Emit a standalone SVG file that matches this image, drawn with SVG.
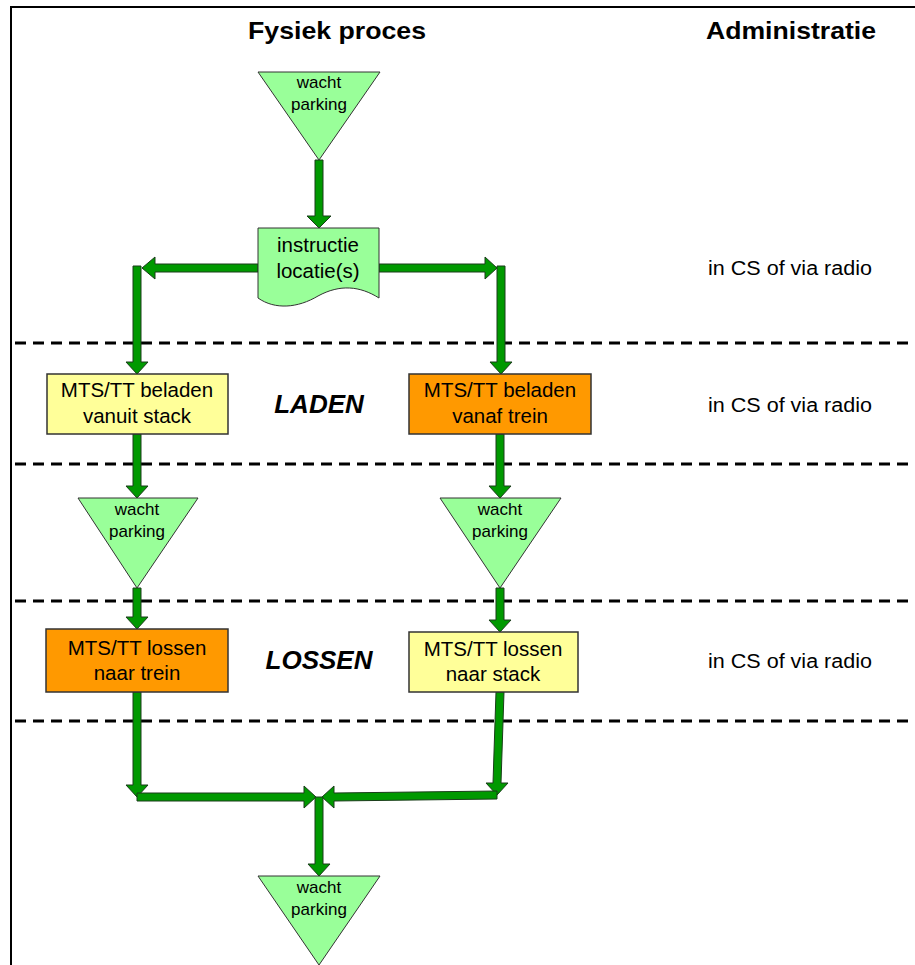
<svg xmlns="http://www.w3.org/2000/svg" width="915" height="965" viewBox="0 0 915 965">
<style>
text{font-family:"Liberation Sans",Arial,sans-serif;fill:#000}
.hdr{font-size:24px;font-weight:bold;text-anchor:middle}
.box{font-size:20.5px;text-anchor:middle}
.tri{font-size:17px;text-anchor:middle}
.adm{font-size:20px}
.phase{font-size:26px;font-weight:bold;font-style:italic;text-anchor:middle}
.dash{stroke:#000;stroke-width:3;stroke-dasharray:11 7;fill:none}
.arr{fill:#009900;stroke:#1a3d1a;stroke-width:1;stroke-linejoin:miter}
.wait{fill:#99FF99;stroke:#333;stroke-width:1}
.yel{fill:#FFFF99;stroke:#333;stroke-width:1.5}
.org{fill:#FF9900;stroke:#333;stroke-width:1.5}
.doc{fill:#99FF99;stroke:#333;stroke-width:1}
</style>
<rect x="0" y="0" width="915" height="965" fill="#fff"/>
<path d="M11,965 V7 H915" fill="none" stroke="#000" stroke-width="2"/>
<g id="lanes">
<line class="dash" x1="15" y1="343" x2="915" y2="343"/>
<line class="dash" x1="15" y1="464" x2="915" y2="464"/>
<line class="dash" x1="15" y1="601" x2="915" y2="601"/>
<line class="dash" x1="15" y1="721" x2="915" y2="721"/>
</g>
<g id="headers">
<text class="hdr" x="337" y="39" textLength="178" lengthAdjust="spacingAndGlyphs">Fysiek proces</text>
<text class="hdr" x="791" y="39" textLength="170" lengthAdjust="spacingAndGlyphs">Administratie</text>
<text class="phase" x="319" y="413">LADEN</text>
<text class="phase" x="319" y="669">LOSSEN</text>
<text class="adm" x="708" y="275" textLength="164" lengthAdjust="spacingAndGlyphs">in CS of via radio</text>
<text class="adm" x="708" y="412" textLength="164" lengthAdjust="spacingAndGlyphs">in CS of via radio</text>
<text class="adm" x="708" y="668" textLength="164" lengthAdjust="spacingAndGlyphs">in CS of via radio</text>
</g>
<g id="connectors">
<polygon class="arr" points="315,160 323,160 323,216 331,216 319,228 307,216 315,216"/>
<polygon class="arr" points="258,264 258,272 155,272 155,279 142,268 155,257 155,264"/>
<polygon class="arr" points="133,266 141,266 141,362 148,362 137,374 126,362 133,362"/>
<polygon class="arr" points="379,264 379,272 485,272 485,279 497,268 485,257 485,264"/>
<polygon class="arr" points="497,266 505,266 505,362 512,362 501,374 490,362 497,362"/>
<polygon class="arr" points="133,434 141,434 141,486 148,486 137,498 126,486 133,486"/>
<polygon class="arr" points="496,434 504,434 504,486 511,486 500,498 489,486 496,486"/>
<polygon class="arr" points="133,588 141,588 141,617 148,617 137,629 126,617 133,617"/>
<polygon class="arr" points="496,588 504,588 504,620 511,620 500,632 489,620 496,620"/>
<polygon class="arr" points="133,692 141,692 141,785 148,785 137,797 126,785 133,785"/>
<polygon class="arr" points="137,793 304,793 304,786 316,797 304,808 304,801 137,801"/>
<polygon class="arr" points="496,692 504,692 501,783 508,783 497,795 486,783 493,783"/>
<polygon class="arr" points="497,791 334,793 334,786 322,797 334,808 334,801 497,799"/>
<polygon class="arr" points="315,797 323,797 323,864 330,864 319,876 308,864 315,864"/>
</g>
<g id="wait-top">
<polygon class="wait" points="258,72 380,72 319,160"/>
<text class="tri" x="319" y="88">wacht</text>
<text class="tri" x="319" y="110">parking</text>
</g>
<g id="instructie">
<path class="doc" d="M258,228 H379 V298 C360,286 340,284 318,296 C298,308 275,310 258,298 Z"/>
<text class="box" x="318" y="252">instructie</text>
<text class="box" x="318" y="278">locatie(s)</text>
</g>
<g id="beladen-stack">
<rect class="yel" x="47" y="374" width="181" height="60"/>
<text class="box" x="137" y="397">MTS/TT beladen</text>
<text class="box" x="137" y="423">vanuit stack</text>
</g>
<g id="beladen-trein">
<rect class="org" x="409" y="374" width="182" height="60"/>
<text class="box" x="500" y="397">MTS/TT beladen</text>
<text class="box" x="500" y="423">vanaf trein</text>
</g>
<g id="wait-left">
<polygon class="wait" points="78,498 198,498 137,588"/>
<text class="tri" x="137" y="515">wacht</text>
<text class="tri" x="137" y="537">parking</text>
</g>
<g id="wait-right">
<polygon class="wait" points="440,498 561,498 500,588"/>
<text class="tri" x="500" y="515">wacht</text>
<text class="tri" x="500" y="537">parking</text>
</g>
<g id="lossen-trein">
<rect class="org" x="46" y="629" width="182" height="63"/>
<text class="box" x="137" y="655">MTS/TT lossen</text>
<text class="box" x="137" y="680">naar trein</text>
</g>
<g id="lossen-stack">
<rect class="yel" x="409" y="632" width="169" height="60"/>
<text class="box" x="493" y="656">MTS/TT lossen</text>
<text class="box" x="493" y="681">naar stack</text>
</g>
<g id="wait-bottom">
<polygon class="wait" points="258,876 380,876 319,965"/>
<text class="tri" x="319" y="893">wacht</text>
<text class="tri" x="319" y="915">parking</text>
</g>
</svg>
